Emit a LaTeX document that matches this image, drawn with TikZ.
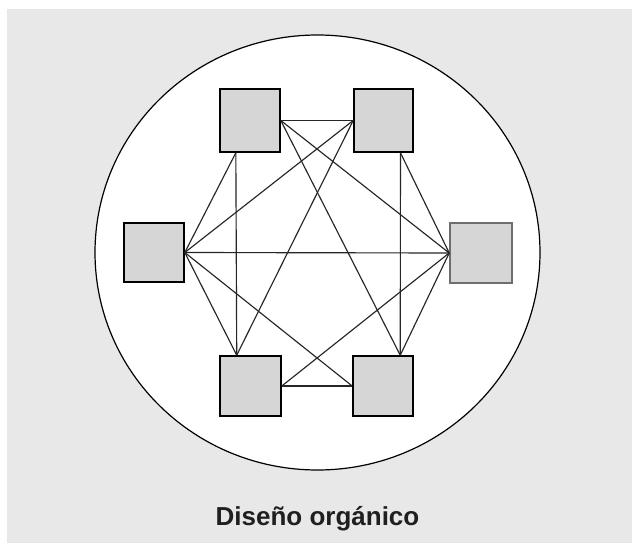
\documentclass[tikz,border=0pt]{standalone}
\usepackage{fontspec}
\setmainfont{Liberation Sans}
\usetikzlibrary{calc}
\definecolor{bggray}{RGB}{232,232,232}
\definecolor{boxgray}{RGB}{214,214,214}
\definecolor{rimgray}{RGB}{110,110,110}
\tikzset{
  sq/.style={draw=black, line width=1.6pt, fill=boxgray, inner sep=0pt, minimum width=60pt, minimum height=60pt},
  link/.style={draw=black!85, line width=1.15pt},
}
\begin{document}
\begin{tikzpicture}[x=1pt,y=-1pt]
\useasboundingbox (0,0) rectangle (632,543);
\fill[white] (0,0) rectangle (632,543);
\fill[bggray] (7,9) rectangle (632,543);
\draw[line width=1.2pt, fill=white] (317.5,252.5) ellipse [x radius=222.5, y radius=217.5];

\node[sq, minimum height=63pt] (tl) at (250,120.5) {};
\node[sq, minimum height=63pt, minimum width=59pt] (tr) at (383.5,120.5) {};
\node[sq, minimum height=59pt] (l) at (154,252.5) {};
\node[sq, draw=rimgray, minimum width=62pt] (r) at (481,253) {};
\node[sq, minimum width=61pt] (bl) at (250.5,386) {};
\node[sq] (br) at (383,386) {};

\coordinate (tlb) at ($(tl.south west)!0.27!(tl.south east)$);
\coordinate (trb) at ($(tr.south west)!0.78!(tr.south east)$);
\coordinate (blt) at ($(bl.north west)!0.28!(bl.north east)$);
\coordinate (brt) at ($(br.north west)!0.78!(br.north east)$);

\draw[link] (tl.east) -- (tr.west);
\draw[link] (tlb) -- (l.east);
\draw[link] (tlb) -- (blt);
\draw[link] (tl.east) -- (brt);
\draw[link] (tl.east) -- (r.west);
\draw[link] (tr.west) -- (l.east);
\draw[link] (tr.west) -- (blt);
\draw[link] (trb) -- (brt);
\draw[link] (trb) -- (r.west);
\draw[link] (l.east) -- (r.west);
\draw[link] (l.east) -- (blt);
\draw[link] (l.east) -- (br.west);
\draw[link] (bl.east) -- (br.west);
\draw[link] (bl.east) -- (r.west);
\draw[link] (brt) -- (r.west);

\node[anchor=base, inner sep=0pt, text=black!88, font=\fontsize{26}{30}\selectfont\bfseries] (title) at (317.5,525) {Diseño orgánico};
\end{tikzpicture}
\end{document}
